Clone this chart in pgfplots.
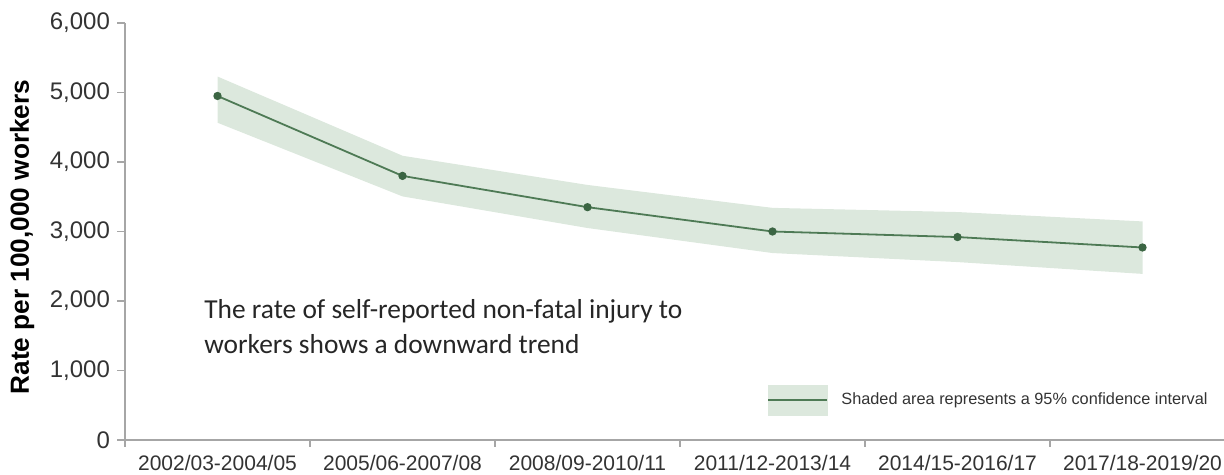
\documentclass[border=0pt]{standalone}
\usepackage{pgfplots}
\pgfplotsset{compat=1.18}
\usepgfplotslibrary{fillbetween}
\usepackage{fontspec}
\setmainfont{Liberation Sans}
\newfontfamily\calibri{Carlito}
\definecolor{linegreen}{HTML}{4E7A55}
\definecolor{dotgreen}{HTML}{3B6543}
\definecolor{bandgreen}{HTML}{DCE8DD}
\definecolor{axisgray}{HTML}{A6A6A6}
\definecolor{txt}{HTML}{333333}
\begin{document}
\begin{tikzpicture}
\begin{axis}[
  at={(0,0)}, anchor=south west,
  scale only axis, width=555pt, height=208.5pt,
  xmin=0, xmax=6, ymin=0, ymax=6000,
  axis x line*=bottom, axis y line*=left,
  axis line style={draw=axisgray, line width=0.8pt},
  xtick={0.5,1.5,2.5,3.5,4.5,5.5},
  xticklabels={2002/03-2004/05,2005/06-2007/08,2008/09-2010/11,2011/12-2013/14,2014/15-2016/17,2017/18-2019/20},
  minor xtick={0,1,2,3,4,5,6},
  major x tick style={draw=none},
  minor x tick style={draw=axisgray, line width=0.8pt},
  y tick style={draw=axisgray, line width=0.8pt},
  tick align=outside, major tick length=4pt, minor tick length=3.5pt,
  ytick={0,1000,2000,3000,4000,5000,6000},
  /pgf/number format/.cd, 1000 sep={,}, assume math mode=true, /pgfplots/.cd,
  x tick label style={font=\fontsize{10.5}{12}\selectfont, text=txt},
  y tick label style={font=\fontsize{12}{13}\selectfont, text=txt},
  ylabel={Rate per 100,000 workers},
  ylabel style={font=\fontsize{13.1}{15}\selectfont\bfseries, text=black, at={(axis description cs:-0.0928,0.487)}, anchor=center},
  legend style={at={(axis description cs:0.5784,0.0959)}, anchor=west, draw=none, fill=none, inner sep=0pt, font=\fontsize{8.15}{9}\selectfont, text=txt, /tikz/every odd column/.append style={column sep=4.5pt}},
  legend cell align=left,
  clip=false,
]
\addplot[name path=upper, draw=none, forget plot] coordinates {(0.5,5230) (1.5,4090) (2.5,3670) (3.5,3340) (4.5,3280) (5.5,3145)};
\addplot[name path=lower, draw=none, forget plot] coordinates {(0.5,4565) (1.5,3505) (2.5,3050) (3.5,2690) (4.5,2560) (5.5,2390)};
\addplot[fill=bandgreen, draw=none, forget plot] fill between[of=upper and lower];
\addplot[color=linegreen, line width=0.9pt, mark=*, mark size=1.6pt, mark options={fill=dotgreen, draw=dotgreen}, forget plot] coordinates {(0.5,4950) (1.5,3800) (2.5,3350) (3.5,3000) (4.5,2920) (5.5,2770)};
\addlegendimage{legend image code/.code={\fill[bandgreen] (0pt,-7.5pt) rectangle (29.5pt,7.5pt); \draw[linegreen, line width=1pt] (0pt,0pt) -- (29.5pt,0pt);}}
\addlegendentry{Shaded area represents a 95\% confidence interval}
\node[anchor=north west, inner sep=0pt, align=left, font=\calibri\fontsize{13.7}{17.5}\selectfont, text=black!85] at (axis cs:0.427,2030) {The rate of self-reported non-fatal injury to\\workers shows a downward trend};
\end{axis}
\pgfresetboundingbox
\useasboundingbox (-62.5pt,-17.5pt) rectangle (549.5pt,220pt);
\end{tikzpicture}
\end{document}
